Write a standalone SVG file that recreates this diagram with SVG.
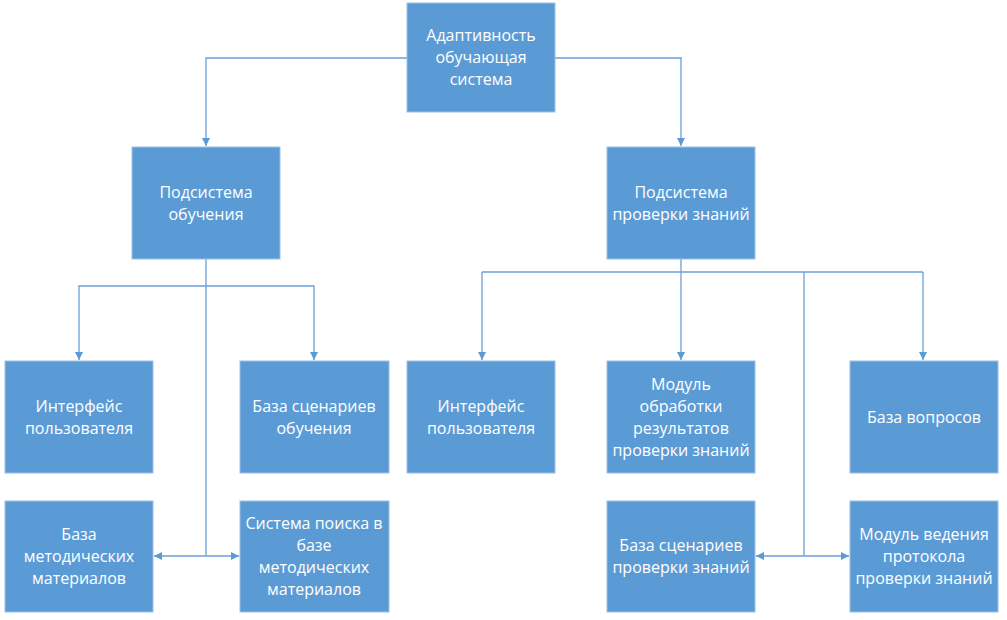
<svg xmlns="http://www.w3.org/2000/svg" width="1007" height="620" viewBox="0 0 1007 620">
<style>
.box{fill:#5B9BD5;stroke:#9DC0E6;stroke-width:1}
.t{fill:#FFFFFF;font-family:"Open Sans","Noto Sans","DejaVu Sans",sans-serif;font-size:16px;text-anchor:middle}
.c{fill:none;stroke:#6A9FD6;stroke-width:1.3}
</style>
<defs>
<marker id="ah" markerWidth="10" markerHeight="10" refX="9" refY="5" orient="auto" markerUnits="userSpaceOnUse">
<path d="M1,1 L9,5 L1,9 Z" fill="#5B9BD5"/>
</marker>
</defs>
<rect width="1007" height="620" fill="#FFFFFF"/>
<g id="connectors">
<path class="c" d="M407,58 H206 V146" marker-end="url(#ah)"/>
<path class="c" d="M555,58 H681 V146" marker-end="url(#ah)"/>
<path class="c" d="M206,259 V556"/>
<path class="c" d="M206,286 H79 V360" marker-end="url(#ah)"/>
<path class="c" d="M206,286 H314 V360" marker-end="url(#ah)"/>
<path class="c" d="M206,556 H154" marker-end="url(#ah)"/>
<path class="c" d="M206,556 H239" marker-end="url(#ah)"/>
<path class="c" d="M681,259 V272"/>
<path class="c" d="M482,272 H923"/>
<path class="c" d="M482,272 V360" marker-end="url(#ah)"/>
<path class="c" d="M681,272 V360" marker-end="url(#ah)"/>
<path class="c" d="M923,272 V360" marker-end="url(#ah)"/>
<path class="c" d="M804,272 V556"/>
<path class="c" d="M804,556 H756" marker-end="url(#ah)"/>
<path class="c" d="M804,556 H849" marker-end="url(#ah)"/>
</g>
<g id="root">
<rect class="box" x="407" y="3" width="148" height="109"/>
<text class="t" x="481" y="41">Адаптивность</text>
<text class="t" x="481" y="63">обучающая</text>
<text class="t" x="481" y="85">система</text>
</g>
<g id="sub-learning">
<rect class="box" x="132" y="147" width="148" height="112"/>
<text class="t" x="206" y="198">Подсистема</text>
<text class="t" x="206" y="220">обучения</text>
</g>
<g id="sub-testing">
<rect class="box" x="607" y="147" width="148" height="112"/>
<text class="t" x="681" y="198">Подсистема</text>
<text class="t" x="681" y="220">проверки знаний</text>
</g>
<g id="ui-left">
<rect class="box" x="5" y="361" width="148" height="112"/>
<text class="t" x="79" y="412">Интерфейс</text>
<text class="t" x="79" y="434">пользователя</text>
</g>
<g id="scenarios-learning">
<rect class="box" x="240" y="361" width="149" height="112"/>
<text class="t" x="314" y="412">База сценариев</text>
<text class="t" x="314" y="434">обучения</text>
</g>
<g id="methods-base">
<rect class="box" x="5" y="501" width="148" height="111"/>
<text class="t" x="79" y="540">База</text>
<text class="t" x="79" y="562">методических</text>
<text class="t" x="79" y="584">материалов</text>
</g>
<g id="search-system">
<rect class="box" x="240" y="501" width="149" height="111"/>
<text class="t" x="314" y="529">Система поиска в</text>
<text class="t" x="314" y="551">базе</text>
<text class="t" x="314" y="573">методических</text>
<text class="t" x="314" y="595">материалов</text>
</g>
<g id="ui-right">
<rect class="box" x="407" y="361" width="148" height="112"/>
<text class="t" x="481" y="412">Интерфейс</text>
<text class="t" x="481" y="434">пользователя</text>
</g>
<g id="results-module">
<rect class="box" x="607" y="361" width="148" height="112"/>
<text class="t" x="681" y="390">Модуль</text>
<text class="t" x="681" y="412">обработки</text>
<text class="t" x="681" y="434">результатов</text>
<text class="t" x="681" y="456">проверки знаний</text>
</g>
<g id="questions-base">
<rect class="box" x="850" y="361" width="148" height="112"/>
<text class="t" x="924" y="423">База вопросов</text>
</g>
<g id="scenarios-testing">
<rect class="box" x="607" y="501" width="148" height="111"/>
<text class="t" x="681" y="551">База сценариев</text>
<text class="t" x="681" y="573">проверки знаний</text>
</g>
<g id="protocol-module">
<rect class="box" x="850" y="501" width="148" height="111"/>
<text class="t" x="924" y="540">Модуль ведения</text>
<text class="t" x="924" y="562">протокола</text>
<text class="t" x="924" y="584">проверки знаний</text>
</g>
</svg>
